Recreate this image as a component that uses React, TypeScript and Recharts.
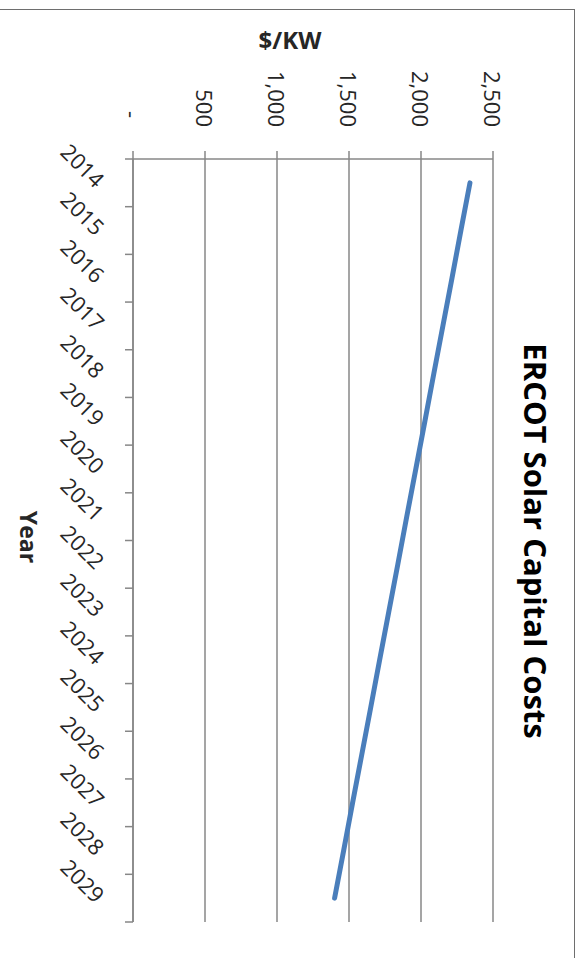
import React from 'react';
import { LineChart, Line, XAxis, YAxis, CartesianGrid } from 'recharts';

const years = ['2014', '2015', '2016', '2017', '2018', '2019', '2020', '2021', '2022', '2023', '2024', '2025', '2026', '2027', '2028', '2029'];
const costs = [2340, 2277, 2215, 2152, 2089, 2027, 1964, 1901, 1839, 1776, 1713, 1651, 1588, 1525, 1463, 1400];
const valueTicks = [0, 500, 1000, 1500, 2000, 2500];
const yearBounds = [0, 1, 2, 3, 4, 5, 6, 7, 8, 9, 10, 11, 12, 13, 14, 15, 16];

// slot = middle of each year's band on the boundary axis
const data = years.map((year, i) => ({ year, cost: costs[i], slot: i + 0.5 }));

// chart is drawn landscape then turned 90deg clockwise, like the source
const W = 958;
const H = 580;
const PLOT_W = 763;
const halfBand = PLOT_W / years.length / 2;

const gridColor = '#878787';
const textColor = '#262626';
const font = '"Open Sans", sans-serif';

const ValueTick = (props: any) => {
  const { x, y, payload } = props;
  const isZero = payload.value === 0;
  return (
    <text
      x={isZero ? x - 9 : x}
      y={y}
      textAnchor="end"
      dominantBaseline="central"
      fill={textColor}
      fontSize={22}
      fontFamily={font}
    >
      {isZero ? '-' : payload.value.toLocaleString('en-US')}
    </text>
  );
};

const YearTick = (props: any) => {
  const { x, y, payload } = props;
  return (
    <text
      x={x}
      y={y}
      transform={`rotate(-45 ${x} ${y})`}
      textAnchor="end"
      dominantBaseline="central"
      fill={textColor}
      fontSize={22}
      fontFamily={font}
    >
      {payload.value}
    </text>
  );
};

// boundary axis only shows its tick marks, no labels
const NoLabel = () => <g />;

export default function App() {
  return (
    <div style={{ position: 'absolute', left: 0, top: 0, width: H, height: W, overflow: 'hidden', background: '#fff' }}>
      <div
        style={{
          position: 'absolute',
          left: 0,
          top: 0,
          width: W,
          height: H,
          transform: `translateX(${H}px) rotate(90deg)`,
          transformOrigin: '0 0',
        }}
      >
        <div
          style={{
            position: 'absolute',
            left: 9,
            top: 5,
            width: W + 40,
            height: H + 40,
            borderTop: '1.5px solid #6e6e6e',
            borderLeft: '1.5px solid #6e6e6e',
          }}
        />
        <div
          style={{
            position: 'absolute',
            left: 541,
            top: 44,
            transform: 'translate(-50%, -50%)',
            whiteSpace: 'nowrap',
            fontFamily: font,
            fontWeight: 700,
            fontSize: 31,
            color: '#000',
          }}
        >
          ERCOT Solar Capital Costs
        </div>
        <div
          style={{
            position: 'absolute',
            left: 39,
            top: 290,
            transform: 'translate(-50%, -50%) rotate(-90deg)',
            whiteSpace: 'nowrap',
            fontFamily: font,
            fontWeight: 700,
            fontSize: 24,
            color: textColor,
          }}
        >
          $/KW
        </div>
        <div
          style={{
            position: 'absolute',
            left: 537,
            top: 551,
            transform: 'translate(-50%, -50%)',
            whiteSpace: 'nowrap',
            fontFamily: font,
            fontWeight: 700,
            fontSize: 23,
            color: textColor,
          }}
        >
          Year
        </div>
        <LineChart width={W} height={H} data={data} margin={{ top: 87, right: 36, bottom: 0, left: 0 }}>
          <CartesianGrid horizontal vertical={false} stroke={gridColor} strokeWidth={1.5} yAxisId="v" xAxisId="a" />
          <XAxis
            xAxisId="a"
            dataKey="slot"
            type="number"
            domain={[0, years.length]}
            ticks={yearBounds}
            interval={0}
            tick={<NoLabel />}
            tickSize={8}
            height={1}
            axisLine={{ stroke: gridColor, strokeWidth: 1.5 }}
            tickLine={{ stroke: gridColor, strokeWidth: 1.5 }}
            allowDataOverflow
          />
          <XAxis
            xAxisId="b"
            dataKey="year"
            type="category"
            interval={0}
            padding={{ left: halfBand, right: halfBand }}
            axisLine={false}
            tickLine={false}
            tickSize={0}
            tickMargin={31}
            height={132}
            tick={<YearTick />}
          />
          <YAxis
            yAxisId="v"
            width={159}
            domain={[0, 2500]}
            ticks={valueTicks}
            tickSize={8}
            tickMargin={24}
            axisLine={{ stroke: gridColor, strokeWidth: 1.5 }}
            tickLine={{ stroke: gridColor, strokeWidth: 1.5 }}
            tick={<ValueTick />}
          />
          <Line
            xAxisId="b"
            yAxisId="v"
            type="linear"
            dataKey="cost"
            stroke="#4a7ebb"
            strokeWidth={5}
            strokeLinecap="round"
            dot={false}
            isAnimationActive={false}
          />
        </LineChart>
      </div>
    </div>
  );
}
